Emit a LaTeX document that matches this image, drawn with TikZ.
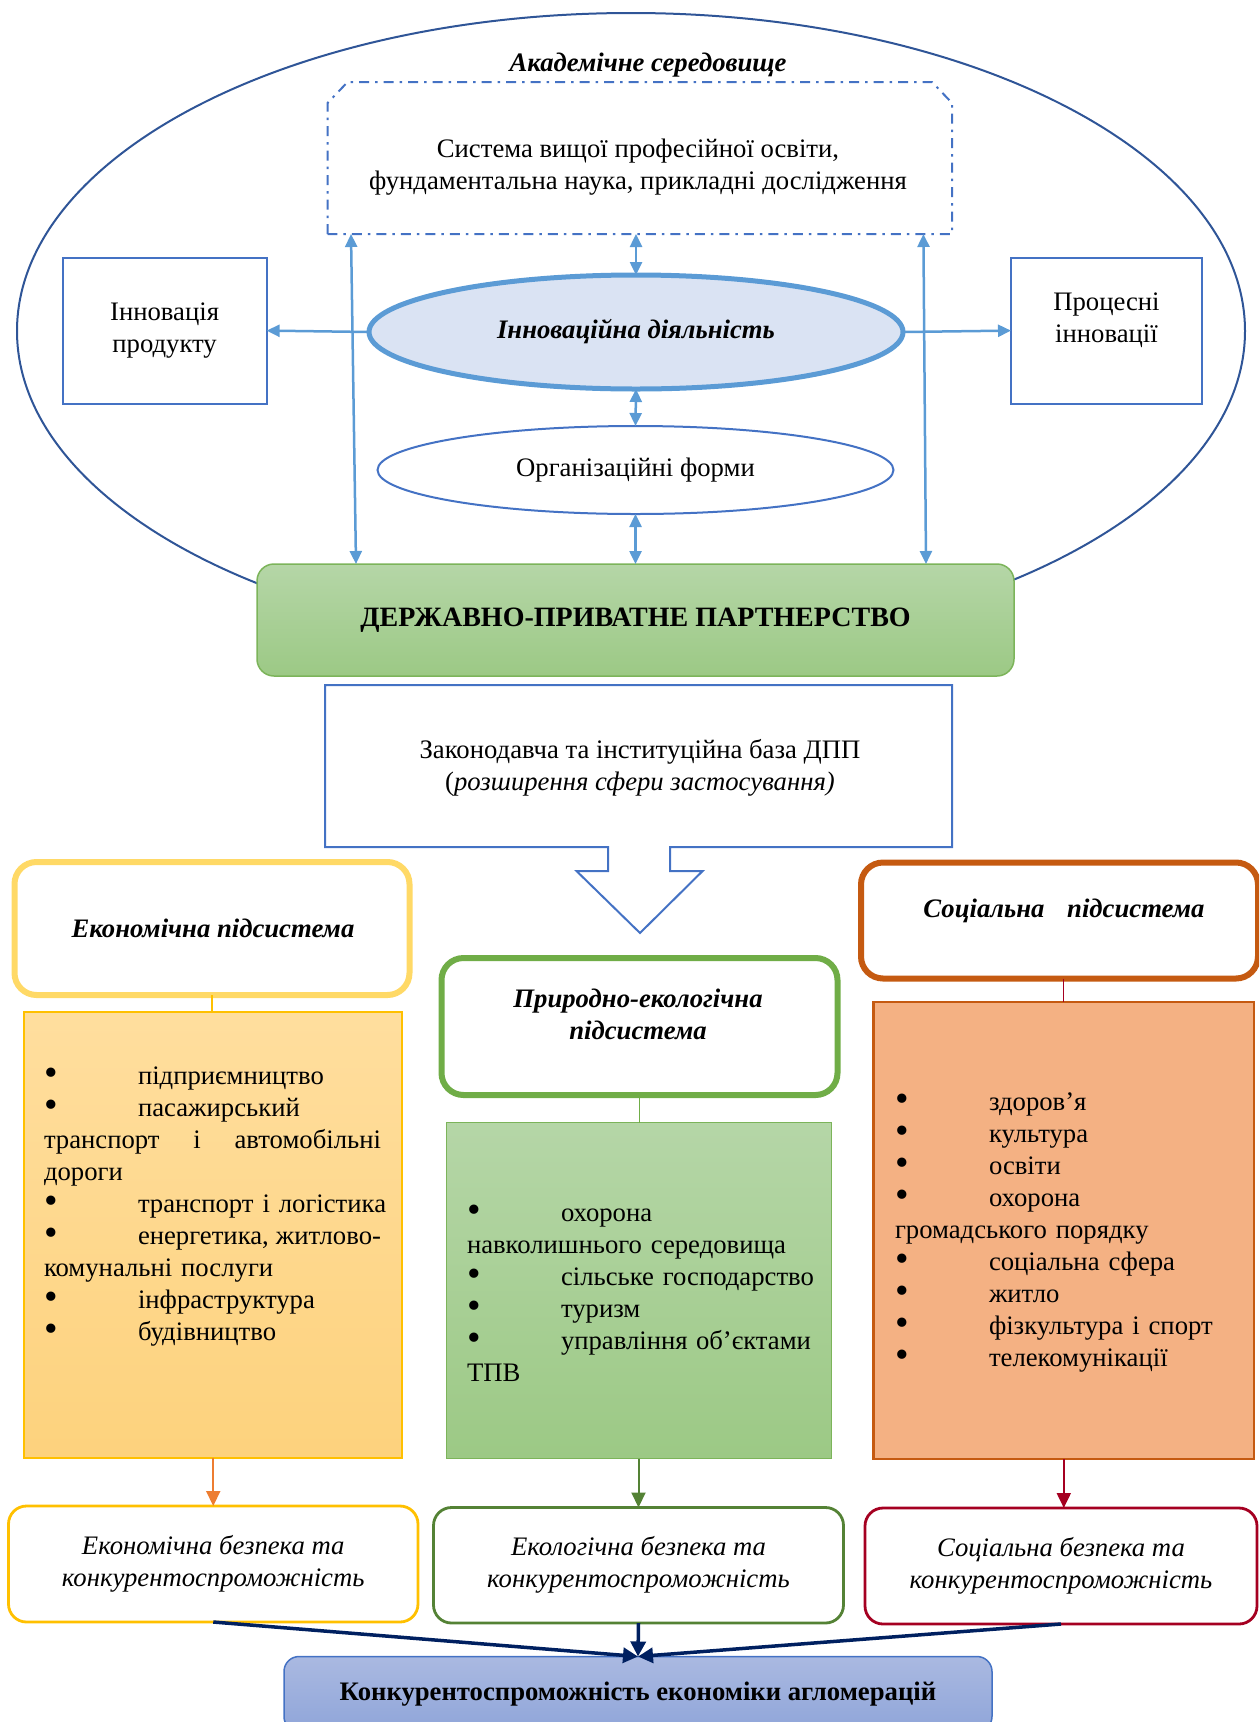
\documentclass[tikz,border=0pt]{standalone}
\usepackage{fontspec}
\usepackage{graphicx}
\setmainfont{Liberation Serif}
\usetikzlibrary{arrows.meta,shapes.geometric}
\definecolor{cOuter}{HTML}{2F5597}
\definecolor{cArrow}{HTML}{5B9BD5}
\definecolor{cInnFill}{HTML}{DAE3F3}
\definecolor{cBlue}{HTML}{4472C4}
\definecolor{cGTop}{HTML}{B5D6A7}
\definecolor{cGBot}{HTML}{9CC985}
\definecolor{cGBorder}{HTML}{7CB45A}
\definecolor{cYTop}{HTML}{FFDE9E}
\definecolor{cYBot}{HTML}{FDD27D}
\definecolor{cGold}{HTML}{FFC000}
\definecolor{cYHead}{HTML}{FFD966}
\definecolor{cGHead}{HTML}{70AD47}
\definecolor{cDGreen}{HTML}{548235}
\definecolor{cOrHead}{HTML}{C55A11}
\definecolor{cOrFill}{HTML}{F4B183}
\definecolor{cRed}{HTML}{A50021}
\definecolor{cOrange}{HTML}{ED7D31}
\definecolor{cNavy}{HTML}{002060}
\definecolor{cFTop}{HTML}{AAB9E1}
\definecolor{cFBot}{HTML}{8FA5D9}
\newcommand\myfs{\fontsize{26.7}{32}\selectfont}
\newcommand\mybullet{\makebox[94pt][l]{\smash{\raisebox{-1.5pt}{\scalebox{1.45}{•}}}}}
\newcommand\bul[1]{\mybullet#1}
\newcommand\jline[2]{\makebox[#1][s]{#2}}
\begin{document}
\begin{tikzpicture}[x=1pt,y=-1pt,
 every node/.style={inner sep=0pt,outer sep=0pt,font=\myfs},
 bluebox/.style={draw=cBlue,line width=2pt,fill=white,align=center},
 hdr/.style={line width=6pt,rounded corners=22pt,fill=white},
 botbox/.style={line width=2.8pt,rounded corners=18pt,fill=white,align=center,font=\myfs\itshape},
 listtext/.style={anchor=north west,align=left},
 barr/.style={draw=cArrow,line width=2.5pt,{Triangle[length=13pt,width=12pt]}-{Triangle[length=13pt,width=12pt]}},
 sarr/.style={draw=cArrow,line width=2.5pt,-{Triangle[length=13pt,width=12pt]}},
 darr/.style={line width=2pt,-{Triangle[length=15pt,width=14pt]}},
 narr/.style={draw=cNavy,line width=3.5pt,-{Triangle[length=15pt,width=15pt]}},
 dashbox/.style={draw=cBlue,line width=2pt,dash pattern=on 10pt off 6pt on 2.5pt off 6pt},
]
\useasboundingbox (0,0) rectangle (1259,1722);
\clip (0,0) rectangle (1259,1722);

% outer academic ellipse
\draw[cOuter,line width=2pt] (631,331) ellipse [x radius=614, y radius=318];

% academic box
\node[minimum width=624.4, minimum height=152] (acad) at (639.8,158) {};
\draw[dashbox] (acad.south west) -- ([yshift=-21pt]acad.north west) -- ([xshift=20pt]acad.north west)
  -- ([xshift=-20pt]acad.north east) -- ([yshift=-21pt]acad.north east) -- (acad.south east) -- cycle;
\node[align=center] (acadtext) at (638,167) {Система вищої професійної освіти,\\фундаментальна наука, прикладні дослідження};
\node[font=\myfs\bfseries\itshape] (acadtitle) at (648,65) {Академічне середовище};

% side boxes
\node[bluebox, minimum width=204, minimum height=146] (lb) at (164.6,330.6) {Інновація\\продукту};
\node[bluebox, minimum width=191, minimum height=146] (rb) at (1106.5,330.6) {};
\node[align=center] (rbtext) at (1106.5,320) {Процесні\\інновації};

% ellipses
\node[ellipse, draw=cArrow, line width=5pt, fill=cInnFill, minimum width=534, minimum height=114,
      font=\myfs\bfseries\itshape] (inn) at (636,332) {Інноваційна діяльність};
\node[ellipse, draw=cBlue, line width=2pt, fill=white, minimum width=516, minimum height=88] (org) at (635.5,470) {Організаційні форми};

% PPP box
\node[rounded corners=17pt, draw=cGBorder, line width=1.5pt, top color=cGTop, bottom color=cGBot,
      minimum width=757, minimum height=112, font=\fontsize{28}{32}\selectfont\bfseries] (ppp) at (635.5,620) {ДЕРЖАВНО-ПРИВАТНЕ ПАРТНЕРСТВО};

% blue arrows
\draw[barr] ([xshift=23.4pt]acad.south west) -- ([xshift=99pt]ppp.north west);
\draw[barr] ([xshift=-28.6pt]acad.south east) -- ([xshift=-88pt]ppp.north east);
\draw[barr] (acad.south -| inn.north) -- (inn.north);
\draw[barr] (inn.south) -- (org.north);
\draw[barr] (org.south) -- (org.south |- ppp.north);
\draw[sarr] (inn.west) -- (lb.east);
\draw[sarr] (inn.east) -- (rb.west);

% law box with arrow
\node[minimum width=627, minimum height=162] (law) at (638.5,766) {};
\draw[cBlue,line width=2pt,line join=miter] (law.north west) -- (law.north east) -- (law.south east) -- (670,847) -- (670,871)
  -- (702.6,871) -- (640,933) -- (576.5,871) -- (608,871) -- (608,847) -- (law.south west) -- cycle;
\node[align=center] (lawtext) at (640,768) {Законодавча та інституційна база ДПП\\(\textit{розширення сфери застосування)}};

% headers
\node[hdr, draw=cYHead, minimum width=395, minimum height=133] (econH) at (212,928.5) {};
\node[font=\myfs\bfseries\itshape] (econHt) at (213,928) {Економічна підсистема};
\node[hdr, draw=cGHead, minimum width=396, minimum height=137] (ecoH) at (639.5,1026.5) {};
\node[align=center, font=\myfs\bfseries\itshape] (ecoHt) at (638,1014) {Природно-екологічна\\підсистема};
\node[hdr, draw=cOrHead, minimum width=397, minimum height=116] (socH) at (1059.5,920.5) {};
\node[font=\myfs\bfseries\itshape] (socHt) at (1064,911) {Соціальна\hspace{0.6em} підсистема};

% content boxes
\node[draw=cGold, line width=2pt, top color=cYTop, bottom color=cYBot, minimum width=377.5, minimum height=445.5] (econC) at (212.75,1234.75) {};
\node[draw=cGBorder, line width=1.5pt, top color=cGTop, bottom color=cGBot, minimum width=385, minimum height=336] (ecoC) at (639,1290.5) {};
\node[draw=cOrHead, line width=2.5pt, fill=cOrFill, minimum width=380.4, minimum height=457] (socC) at (1063.8,1230.5) {};

\draw[cGold,line width=1.5pt] (econH.south) -- (econH.south |- econC.north);
\draw[cGHead,line width=1pt] (ecoH.south) -- (ecoH.south |- ecoC.north);
\draw[cRed,line width=1pt] (socH.south -| socC.north) -- (socC.north);

\node[listtext, text width=370pt] (econT) at (44,1061.6) {\strut\bul{підприємництво}\\
\bul{пасажирський}\\
\jline{337pt}{транспорт\hfill і\hfill автомобільні}\\
дороги\\
\bul{транспорт і логістика}\\
\jline{337pt}{\mybullet енергетика,\hfill житлово-}\\
комунальні послуги\\
\bul{інфраструктура}\\
\bul{будівництво}};

\node[listtext, text width=370pt] (ecoT) at (467,1198.6) {\strut\bul{охорона}\\
навколишнього середовища\\
\bul{сільське господарство}\\
\bul{туризм}\\
\jline{344pt}{\mybullet управління\hfill об’єктами}\\
ТПВ};

\node[listtext, text width=350pt] (socT) at (895,1087.6) {\strut\bul{здоров’я}\\
\bul{культура}\\
\bul{освіти}\\
\bul{охорона}\\
громадського порядку\\
\bul{соціальна сфера}\\
\bul{житло}\\
\bul{фізкультура і спорт}\\
\bul{телекомунікації}};

% bottom boxes
\node[botbox, draw=cGold, minimum width=409.5, minimum height=116] (econB) at (213.25,1564) {Економічна безпека та\\конкурентоспроможність};
\node[botbox, draw=cDGreen, minimum width=410, minimum height=115.5] (ecoB) at (638.5,1565.25) {Екологічна безпека та\\конкурентоспроможність};
\node[botbox, draw=cRed, minimum width=392, minimum height=116] (socB) at (1061,1566) {Соціальна безпека та\\конкурентоспроможність};

\draw[darr, draw=cOrange, fill=cOrange] (econC.south -| econB.north) -- (econB.north);
\draw[darr, draw=cDGreen, fill=cDGreen] (ecoC.south -| ecoB.north) -- (ecoB.north);
\draw[darr, draw=cRed, fill=cRed] (socC.south) -- (socC.south |- socB.north);

% final box
\node[rounded corners=15pt, draw=cBlue, line width=1.5pt, top color=cFTop, bottom color=cFBot,
      minimum width=708, minimum height=75, font=\myfs\bfseries] (fin) at (638,1694) {Конкурентоспроможність економіки агломерацій};

\draw[narr] (econB.south) -- (fin.north);
\draw[narr] (ecoB.south) -- (fin.north);
\draw[narr] (socB.south) -- (fin.north);
\end{tikzpicture}
\end{document}
